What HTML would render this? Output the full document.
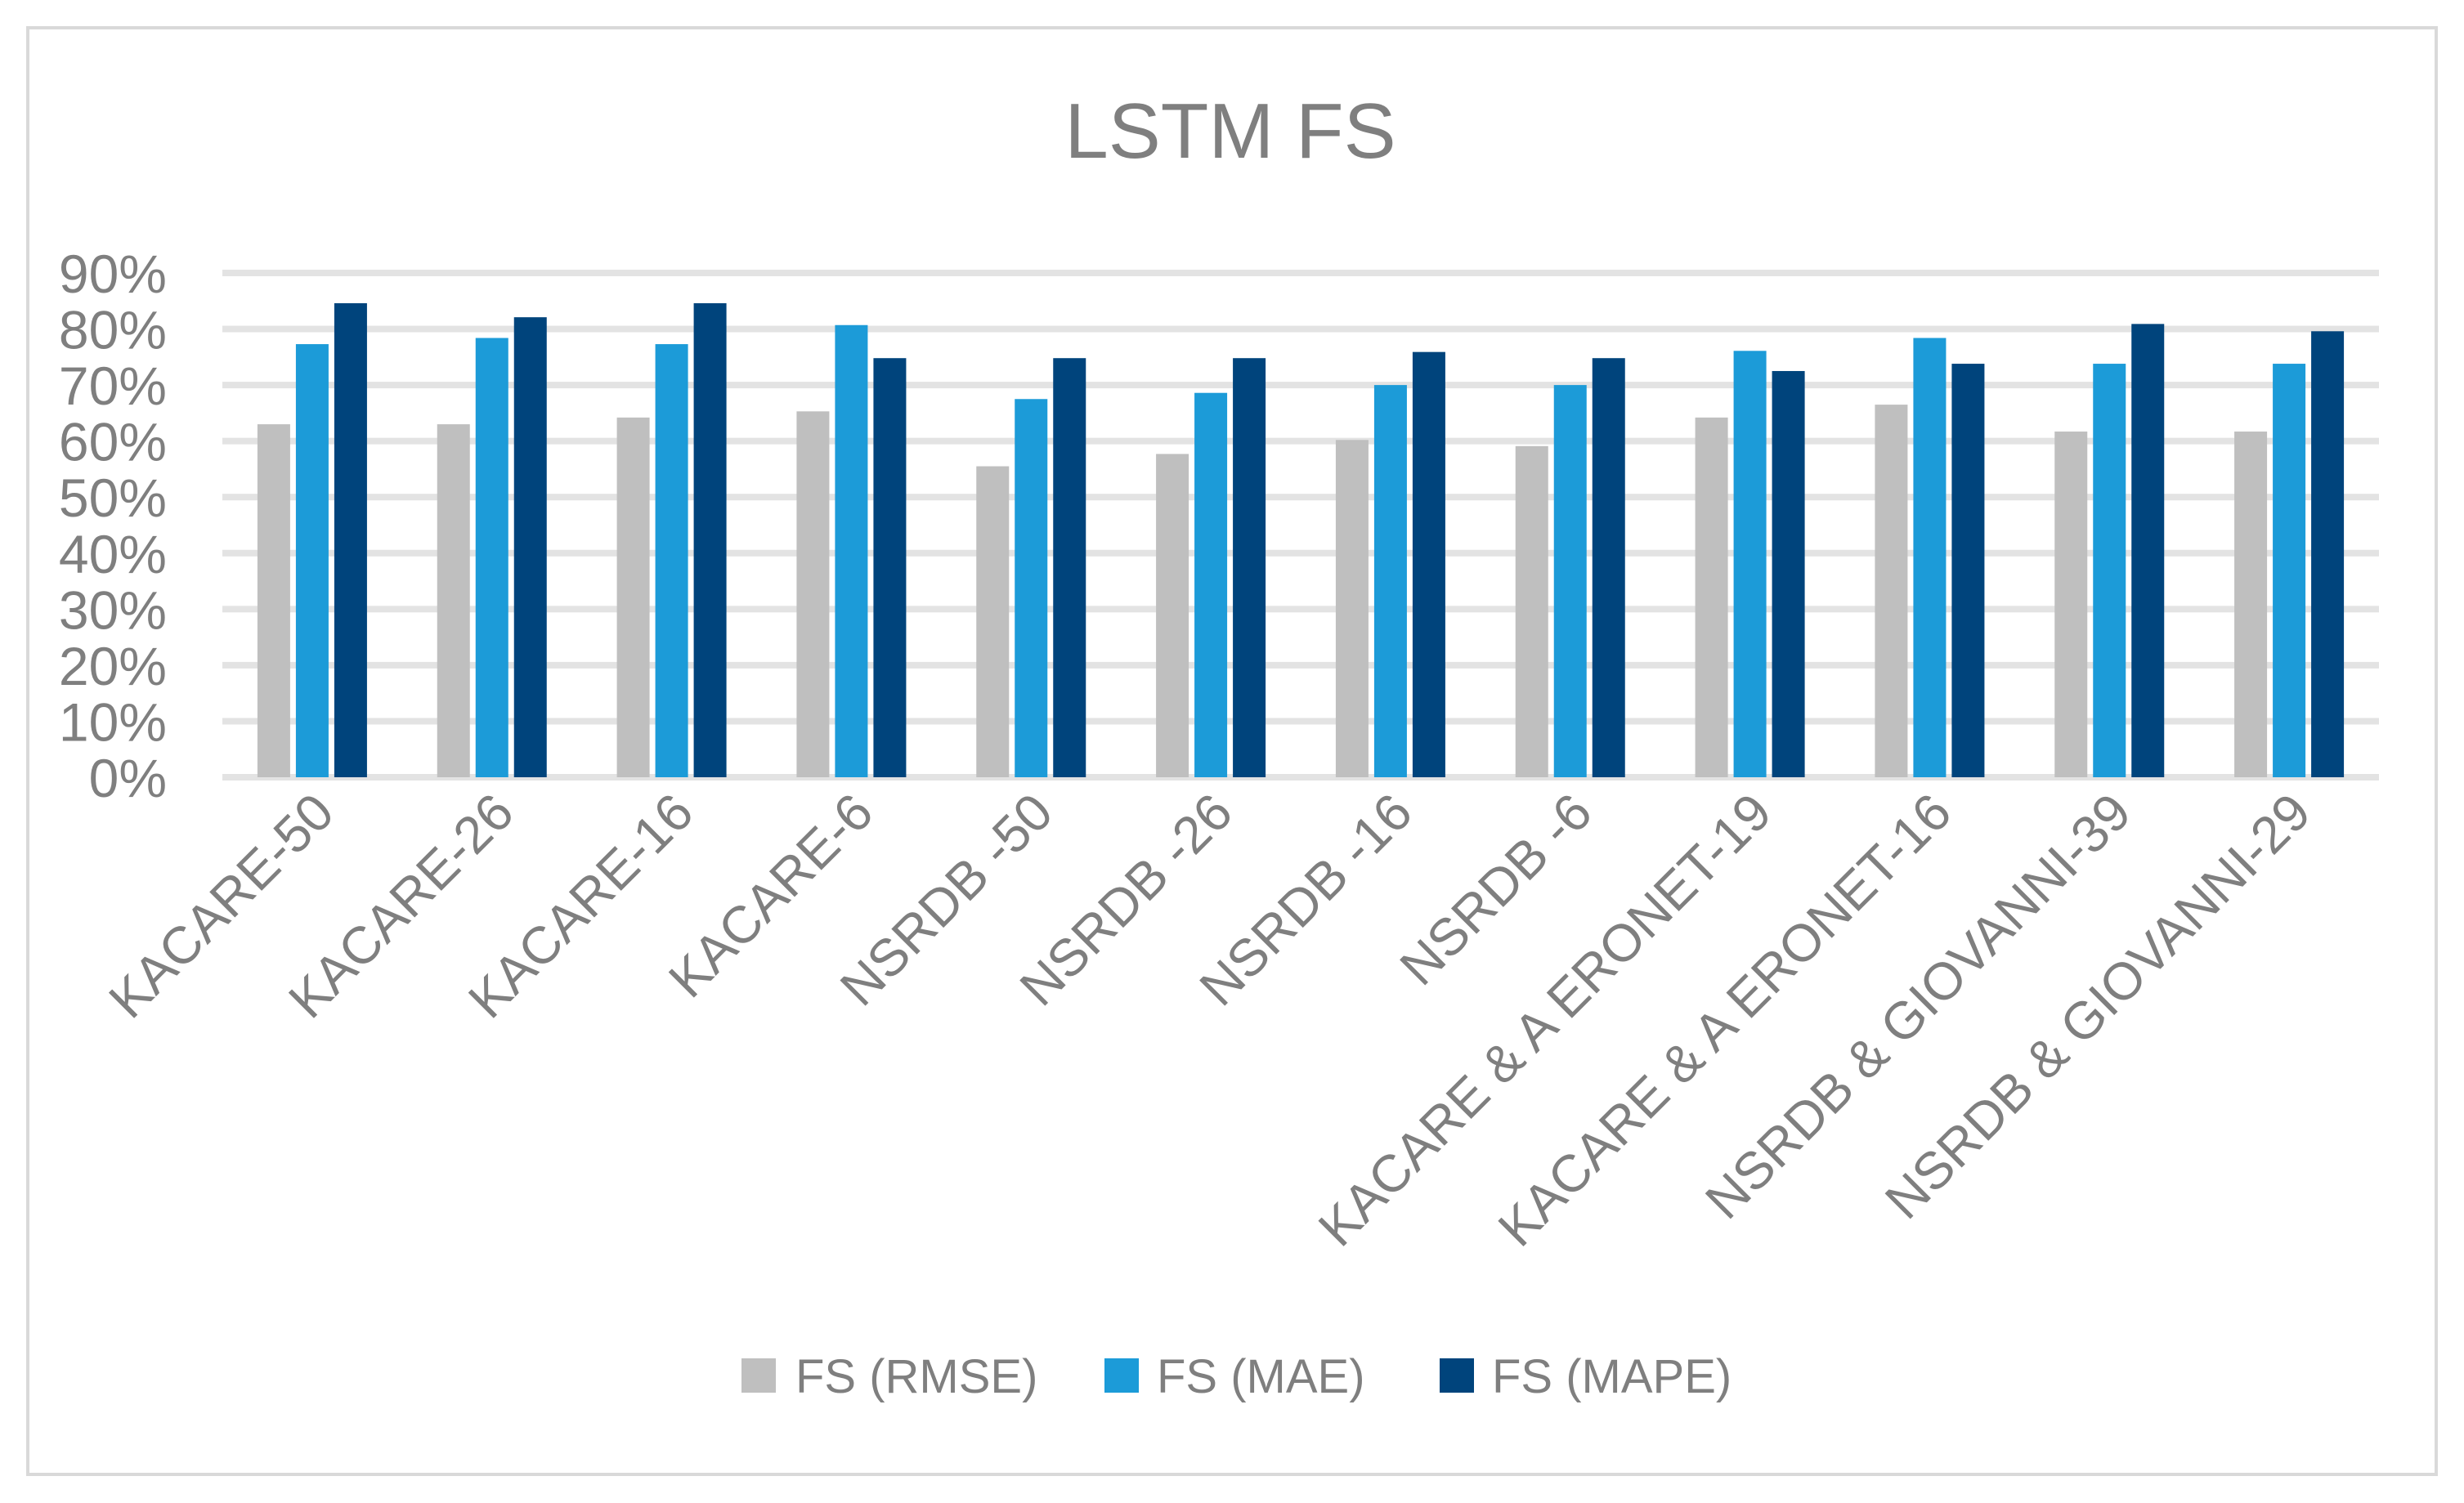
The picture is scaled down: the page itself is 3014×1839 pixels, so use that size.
<!DOCTYPE html>
<html><head><meta charset="utf-8"><style>
html,body{margin:0;padding:0;background:#fff;}
svg{display:block;font-family:"Liberation Sans",sans-serif;}
</style></head><body>
<svg id="chart" width="3014" height="1839" viewBox="0 0 3014 1839" xmlns="http://www.w3.org/2000/svg">
<rect x="34" y="34" width="2946" height="1770" fill="#fff" stroke="#d9d9d9" stroke-width="4"/>
<text x="1505" y="193" text-anchor="middle" font-size="96" fill="#7f7f7f">LSTM FS</text>
<g id="grid"></g>
<g id="yticks"></g>
<g id="bars"></g>
<g id="xlabels"></g>
<g>
  <g><rect x="907" y="1662" width="42" height="42" fill="#bfbfbf"/><text x="973" y="1704" font-size="58" fill="#7f7f7f">FS (RMSE)</text></g>
  <g><rect x="1351" y="1662" width="42" height="42" fill="#1c9bd8"/><text x="1415" y="1704" font-size="58" fill="#7f7f7f">FS (MAE)</text></g>
  <g><rect x="1761" y="1662" width="42" height="42" fill="#00447c"/><text x="1825" y="1704" font-size="58" fill="#7f7f7f">FS (MAPE)</text></g>
</g>
</svg>
<script>
const categories = ["KACARE-50","KACARE-26","KACARE-16","KACARE-6","NSRDB -50","NSRDB -26","NSRDB -16","NSRDB -6","KACARE & A ERONET-19","KACARE & A ERONET-16","NSRDB & GIOVANNI-39","NSRDB & GIOVANNI-29"];
const rmse = [63.0,63.0,64.2,65.3,55.5,57.7,60.2,59.1,64.2,66.5,61.7,61.7];
const mae  = [77.3,78.4,77.3,80.7,67.5,68.6,70.0,70.0,76.1,78.4,73.8,73.8];
const mape = [84.6,82.1,84.6,74.8,74.8,74.8,75.9,74.8,72.5,73.8,80.9,79.6];
const yTicks = [0,10,20,30,40,50,60,70,80,90];
const seriesColors = ["#bfbfbf","#1c9bd8","#00447c"];
const seriesNames = ["rmse","mae","mape"];

const NS="http://www.w3.org/2000/svg";
const x0=272, x1=2910, y0=951, yTop=334;
const yScale=v=>y0-(v/90)*(y0-yTop);
const bandW=(x1-x0)/categories.length;
const xCenter=i=>x0+bandW*(i+0.5);
const barW=40, step=47;
function mk(tag,attrs){const e=document.createElementNS(NS,tag);for(const k in attrs)e.setAttribute(k,attrs[k]);return e;}

const grid=document.getElementById('grid'), yt=document.getElementById('yticks');
yTicks.forEach(t=>{
  const l=mk('rect',{x:x0,y:yScale(t)-4,width:x1-x0,height:8,fill:'#e3e3e3'});
  
  
  grid.appendChild(l);
  const tx=mk('text',{x:204,y:yScale(t)+24,'text-anchor':'end','font-size':66,fill:'#7f7f7f'});
  tx.textContent=t+'%';
  
  
  yt.appendChild(tx);
});

const bars=document.getElementById('bars');
[rmse,mae,mape].forEach((s,si)=>{
  s.forEach((v,i)=>{
    const cx=xCenter(i)+(si-1)*step;
    const r=mk('rect',{x:cx-barW/2,y:yScale(v),width:barW,height:y0-yScale(v),fill:seriesColors[si]});
    
    
    bars.appendChild(r);
  });
});

const xl=document.getElementById('xlabels');
categories.forEach((c,i)=>{
  const x=xCenter(i)+30, y=998;
  const t=mk('text',{x:x,y:y,'text-anchor':'end','font-size':64,fill:'#7f7f7f',transform:`rotate(-45 ${x} ${y})`});
  t.textContent=c;
  
  
  xl.appendChild(t);
});
</script>
</body></html>
